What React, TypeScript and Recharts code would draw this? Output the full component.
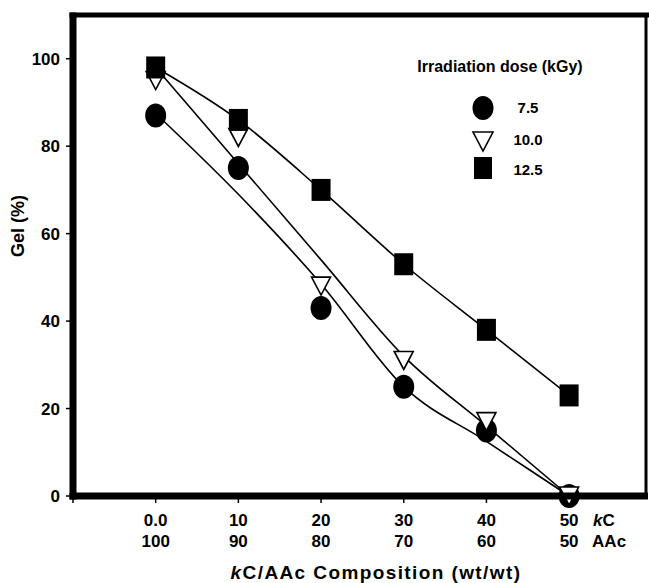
import React from 'react';
import { ComposedChart, Line, XAxis, YAxis } from 'recharts';

// ---- data ----
const categories = [0, 10, 20, 30, 40, 50];
const kcLabels = ['0.0', '10', '20', '30', '40', '50'];
const aacLabels = ['100', '90', '80', '70', '60', '50'];
const gel75 = [87, 75, 43, 25, 15, 0];
const gel100 = [95, 82, 48, 31, 17, 0];
const gel125 = [98, 86, 70, 53, 38, 23];
const fit75 = [87.5, 69, 48.5, 25, 12.5, 0];
const fit100 = [98, 76, 54, 32, 16, 0];
const fit125 = [98, 86, 70, 53, 38, 23];
const yTicks = [0, 20, 40, 60, 80, 100];
const xTicks = [-10, 0, 10, 20, 30, 40, 50];
const xDomain: [number, number] = [-10, 59.3];
const yDomain: [number, number] = [0, 110];
const legendTitle = 'Irradiation dose (kGy)';
const legendLabels = ['7.5', '10.0', '12.5'];

const data = categories.map((x, i) => ({
  x,
  g75: gel75[i],
  g100: gel100[i],
  g125: gel125[i],
  f75: fit75[i],
  f100: fit100[i],
  f125: fit125[i],
}));

// ---- layout ----
const W = 649;
const H = 583;
const M = { top: 15, right: 3, bottom: 0, left: 0 };
const Y_AXIS_W = 73;
const X_AXIS_H = 87;
const PLOT_L = M.left + Y_AXIS_W;
const PLOT_R = W - M.right;
const PLOT_T = M.top;
const PLOT_B = H - M.bottom - X_AXIS_H;

const FONT = '"Liberation Sans", Arial, Helvetica, sans-serif';

const CircleDot = (p: any) => {
  if (p.cx == null || p.cy == null) return <g />;
  return <ellipse cx={p.cx} cy={p.cy} rx={10.5} ry={12} fill="#000" />;
};
const TriDot = (p: any) => {
  if (p.cx == null || p.cy == null) return <g />;
  const w = 9.5, h = 9;
  return (
    <path
      d={`M${p.cx - w},${p.cy - h} L${p.cx + w},${p.cy - h} L${p.cx},${p.cy + h} Z`}
      fill="#fff"
      stroke="#000"
      strokeWidth={1.6}
    />
  );
};
const SquareDot = (p: any) => {
  if (p.cx == null || p.cy == null) return <g />;
  return <rect x={p.cx - 9.5} y={p.cy - 11} width={19} height={22} fill="#000" />;
};

const XTick = (props: any) => {
  const { x, y, payload } = props;
  const i = categories.indexOf(payload.value);
  if (i < 0) return <g />;
  return (
    <g>
      <text x={x} y={y + 21} textAnchor="middle" fontFamily={FONT} fontWeight="bold" fontSize={17} fill="#000">
        {kcLabels[i]}
      </text>
      <text x={x} y={y + 42} textAnchor="middle" fontFamily={FONT} fontWeight="bold" fontSize={17} fill="#000">
        {aacLabels[i]}
      </text>
      {i === categories.length - 1 && (
        <g>
          <text x={x + 24} y={y + 21} textAnchor="start" fontFamily={FONT} fontWeight="bold" fontSize={17} fill="#000">
            <tspan fontStyle="italic">k</tspan>C
          </text>
          <text x={x + 23} y={y + 42} textAnchor="start" fontFamily={FONT} fontWeight="bold" fontSize={17} fill="#000">
            AAc
          </text>
        </g>
      )}
    </g>
  );
};

export default function App() {
  return (
    <div style={{ position: 'fixed', left: 0, top: 0, width: W, height: H, background: '#fff', overflow: 'hidden' }}>
      <style>{'html,body{margin:0;padding:0;overflow:hidden;}'}</style>
      <ComposedChart width={W} height={H} data={data} margin={M}>
        <XAxis
          type="number"
          dataKey="x"
          domain={xDomain}
          ticks={xTicks}
          interval={0}
          height={X_AXIS_H}
          tickSize={7}
          tickMargin={2}
          tickLine={{ stroke: '#000', strokeWidth: 1.5 }}
          axisLine={false}
          tick={<XTick />}
        />
        <YAxis
          type="number"
          domain={yDomain}
          ticks={yTicks}
          interval={0}
          width={Y_AXIS_W}
          tickSize={7}
          tickMargin={6}
          tickLine={{ stroke: '#000', strokeWidth: 1.5 }}
          axisLine={false}
          tick={{ fill: '#000', fontSize: 17, fontWeight: 'bold', fontFamily: FONT }}
        />
        <Line dataKey="f75" type="monotone" stroke="#000" strokeWidth={1.6} dot={false} activeDot={false} isAnimationActive={false} />
        <Line dataKey="f100" type="monotone" stroke="#000" strokeWidth={1.6} dot={false} activeDot={false} isAnimationActive={false} />
        <Line dataKey="f125" type="monotone" stroke="#000" strokeWidth={1.6} dot={false} activeDot={false} isAnimationActive={false} />
        <Line dataKey="g75" stroke="none" dot={<CircleDot />} activeDot={false} isAnimationActive={false} />
        <Line dataKey="g100" stroke="none" dot={<TriDot />} activeDot={false} isAnimationActive={false} />
        <Line dataKey="g125" stroke="none" dot={<SquareDot />} activeDot={false} isAnimationActive={false} />
      </ComposedChart>
      <svg width={W} height={H} style={{ position: 'absolute', left: 0, top: 0, pointerEvents: 'none' }}>
        {/* frame */}
        <rect x={PLOT_L - 3.5} y={PLOT_T - 2.5} width={7} height={PLOT_B - PLOT_T + 6} fill="#000" />
        <rect x={PLOT_L - 3.5} y={PLOT_T - 2.5} width={W - PLOT_L + 3.5} height={5} fill="#000" />
        <rect x={PLOT_R - 1.5} y={PLOT_T} width={3} height={PLOT_B - PLOT_T} fill="#000" />
        <rect x={PLOT_L - 3.5} y={PLOT_B - 3.5} width={W - 1 - PLOT_L + 3.5} height={7} fill="#000" />
        <text
          transform="translate(24,226) rotate(-90)"
          textAnchor="middle"
          fontFamily={FONT}
          fontWeight="bold"
          fontSize={18}
          fill="#000"
        >
          Gel (%)
        </text>
        <text
          x={376}
          y={579}
          textAnchor="middle"
          fontFamily={FONT}
          fontWeight="bold"
          fontSize={19}
          letterSpacing={1.4}
          fill="#000"
        >
          <tspan fontStyle="italic">k</tspan>C/AAc Composition (wt/wt)
        </text>
        <text x={500} y={72} textAnchor="middle" fontFamily={FONT} fontWeight="bold" fontSize={16} fill="#000">
          {legendTitle}
        </text>
        <ellipse cx={483} cy={108} rx={10.5} ry={12} fill="#000" />
        <path d="M473,132 L493,132 L483,151 Z" fill="#fff" stroke="#000" strokeWidth={1.6} />
        <rect x={474} y={157} width={18} height={22} fill="#000" />
        <text x={528} y={113} textAnchor="middle" fontFamily={FONT} fontWeight="bold" fontSize={15} fill="#000">
          {legendLabels[0]}
        </text>
        <text x={528} y={145} textAnchor="middle" fontFamily={FONT} fontWeight="bold" fontSize={15} fill="#000">
          {legendLabels[1]}
        </text>
        <text x={528} y={175} textAnchor="middle" fontFamily={FONT} fontWeight="bold" fontSize={15} fill="#000">
          {legendLabels[2]}
        </text>
      </svg>
    </div>
  );
}
